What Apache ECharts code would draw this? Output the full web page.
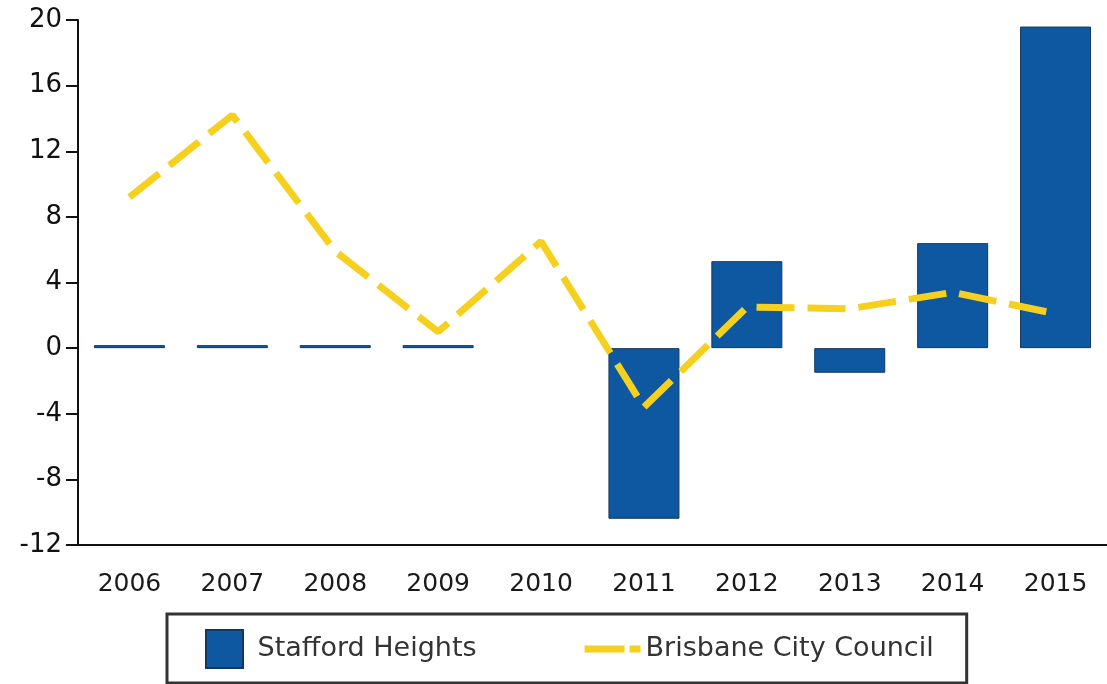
<!DOCTYPE html>
<html>
<head>
<meta charset="utf-8">
<script src="https://cdn.jsdelivr.net/npm/echarts@6/dist/echarts.min.js"></script>
<style>
  html, body { margin: 0; padding: 0; background: #fff; }
  #chart { width: 1107px; height: 684px; }
</style>
</head>
<body>
<div id="chart"></div>
<script>
// 年份
var years = ['2006', '2007', '2008', '2009', '2010', '2011', '2012', '2013', '2014', '2015'];
// Stafford Heights 柱状 (2010 没有数据)
var staffordHeights = [0, 0, 0, 0, '-', -10.4, 5.3, -1.5, 6.4, 19.6];
// Brisbane City Council 折线
var brisbaneCity = [9.2, 14.2, 5.9, 1.0, 6.5, -3.6, 2.5, 2.4, 3.4, 2.1];
// y轴刻度
var yMin = -12, yMax = 20, yStep = 4;

var myChart = echarts.init(document.getElementById('chart'));
var fontFamily = '"DejaVu Sans", Verdana, sans-serif';

var option = {
  animation: false,
  grid: {
    left: 78,
    right: 0,
    top: 20,
    bottom: 139
  },
  legend: {
    left: 167,
    top: 614,
    padding: [15, 33, 14, 38],
    borderColor: '#333',
    borderWidth: 3,
    itemGap: 108,
    itemWidth: 56,
    itemHeight: 38,
    textStyle: {
      fontFamily: fontFamily,
      fontSize: 27,
      color: '#333'
    },
    data: [
      { name: 'Stafford Heights', icon: 'path://M0,0h38v39h-38z' },
      // 虚线图例
      { name: 'Brisbane City Council', icon: 'path://M0,0h40v7h-40z M45,0h11v7h-11z' }
    ]
  },
  xAxis: {
    type: 'category',
    data: years,
    boundaryGap: true,
    axisLine: { onZero: false, lineStyle: { color: '#111', width: 2 } },
    axisTick: { alignWithLabel: true, length: 12, lineStyle: { color: '#111', width: 2 } },
    axisLabel: {
      margin: 27,
      fontFamily: fontFamily,
      fontSize: 25,
      color: '#1a1a1a'
    },
    splitLine: { show: false }
  },
  yAxis: {
    type: 'value',
    min: yMin,
    max: yMax,
    interval: yStep,
    axisLine: { show: true, lineStyle: { color: '#111', width: 2 } },
    axisTick: { show: true, length: 12, lineStyle: { color: '#111', width: 2 } },
    axisLabel: {
      margin: 16,
      fontFamily: fontFamily,
      fontSize: 26,
      color: '#111'
    },
    splitLine: { show: false }
  },
  series: [
    {
      name: 'Stafford Heights',
      type: 'bar',
      data: staffordHeights,
      barWidth: '69%',
      barMinHeight: 3,
      itemStyle: {
        color: '#0e58a1',
        borderColor: '#15375e',
        borderWidth: 1
      }
    },
    {
      name: 'Brisbane City Council',
      type: 'line',
      data: brisbaneCity,
      symbol: 'none',
      z: 5,
      lineStyle: {
        color: '#f6d01e',
        width: 7,
        type: [38, 13]
      },
      itemStyle: { color: '#f6d01e' }
    }
  ]
};

myChart.setOption(option);
</script>
</body>
</html>
